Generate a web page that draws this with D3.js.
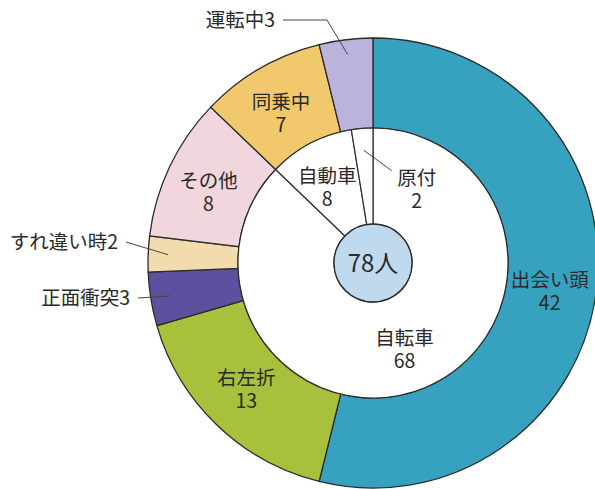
<!DOCTYPE html>
<html>
<head>
<meta charset="utf-8">
<script src="https://cdn.jsdelivr.net/npm/d3@7"></script>
<style>
  body { margin: 0; background: #fff; }
  text { font-family: "Noto Sans CJK JP", "Noto Sans", sans-serif; fill: #2a2a2a; }
</style>
</head>
<body>
<svg width="595" height="489"></svg>
<script>
// outer ring: accident types (clockwise from top)
var outerNames = ["出会い頭", "右左折", "正面衝突", "すれ違い時", "その他", "同乗中", "運転中"];
var outerValues = [42, 13, 3, 2, 8, 7, 3];
var outerColors = ["#36a2bf", "#a8c13c", "#5b519f", "#f2dcae", "#f1d6dd", "#f1c96c", "#bcb3dc"];

// inner pie: vehicle type
var innerNames = ["自転車", "自動車", "原付"];
var innerValues = [68, 8, 2];

var total = "78人";

var svg = d3.select("svg"),
    cx = 373, cy = 263,
    R = 225, r0 = 135, rc = 39,
    fs = 19.5,
    g = svg.append("g").attr("transform", "translate(" + cx + "," + cy + ")");

var pie = d3.pie().sort(null).value(function(d) { return d; });

var outerArcs = pie(outerValues);
var innerArcs = pie(innerValues);

var arcOuter = d3.arc().innerRadius(r0).outerRadius(R);
var arcInner = d3.arc().innerRadius(rc).outerRadius(r0);

g.selectAll("path.outer")
  .data(outerArcs)
  .enter().append("path")
    .attr("class", "outer")
    .attr("d", arcOuter)
    .attr("fill", function(d, i) { return outerColors[i]; })
    .attr("stroke", "#2b2b2b")
    .attr("stroke-width", 1.3);

g.selectAll("path.inner")
  .data(innerArcs)
  .enter().append("path")
    .attr("class", "inner")
    .attr("d", arcInner)
    .attr("fill", "#fff")
    .attr("stroke", "#2b2b2b")
    .attr("stroke-width", 1.2);

g.append("circle")
    .attr("r", rc)
    .attr("fill", "#bfdaef")
    .attr("stroke", "#2b2b2b")
    .attr("stroke-width", 1.3);

g.append("text")
    .attr("text-anchor", "middle")
    .attr("dy", "0.36em")
    .attr("font-size", 24)
    .text(total);

function polar(a, r) { return [r * Math.sin(a), -r * Math.cos(a)]; }
function mid(d) { return (d.startAngle + d.endAngle) / 2; }

function twoLine(p, name, value) {
  var t = g.append("text").attr("text-anchor", "middle").attr("font-size", fs)
      .attr("transform", "translate(" + p[0] + "," + p[1] + ")");
  t.append("tspan").attr("x", 0).attr("y", -4).text(name);
  t.append("tspan").attr("x", 0).attr("y", 19).text(value);
}

// labels inside the big segments
[0, 1, 4, 5].forEach(function(i) {
  var p = polar(mid(outerArcs[i]), 180);
  twoLine([p[0] - 2, p[1] + (i === 1 ? -4 : 6)], outerNames[i], outerValues[i]);
});

// leader labels for small segments
var leaders = [
  {i: 6, text: [-98, -243], elbow: [-46, -243], r: 210},
  {i: 3, text: [-255, -21], elbow: null, r: 205},
  {i: 2, text: [-243, 35], elbow: null, r: 205}
];
leaders.forEach(function(l) {
  var p = polar(mid(outerArcs[l.i]), l.r);
  var pts = [[l.text[0] + 8, l.text[1]]];
  if (l.elbow) pts.push(l.elbow);
  pts.push(p);
  g.append("path")
      .attr("d", d3.line()(pts))
      .attr("fill", "none")
      .attr("stroke", "#444")
      .attr("stroke-width", 1);
  g.append("text")
      .attr("x", l.text[0]).attr("y", l.text[1])
      .attr("dy", "0.36em")
      .attr("text-anchor", "end")
      .attr("font-size", fs)
      .text(outerNames[l.i] + outerValues[l.i]);
});

// inner labels
var innerPos = [
  polar(mid(innerArcs[0]), 88),
  polar(mid(innerArcs[1]), 92),
  polar(-mid(innerArcs[1]) + 0.05, 92)
];
innerArcs.forEach(function(d, i) {
  var p = innerPos[i];
  twoLine([p[0] - 3, p[1] + 5], innerNames[i], innerValues[i]);
});

// leader for the thin 原付 slice
var pa = polar(mid(innerArcs[2]), 113);
g.append("line")
    .attr("x1", pa[0]).attr("y1", pa[1])
    .attr("x2", innerPos[2][0] - 28).attr("y2", innerPos[2][1] - 13)
    .attr("stroke", "#444")
    .attr("stroke-width", 1);
</script>
</body>
</html>
